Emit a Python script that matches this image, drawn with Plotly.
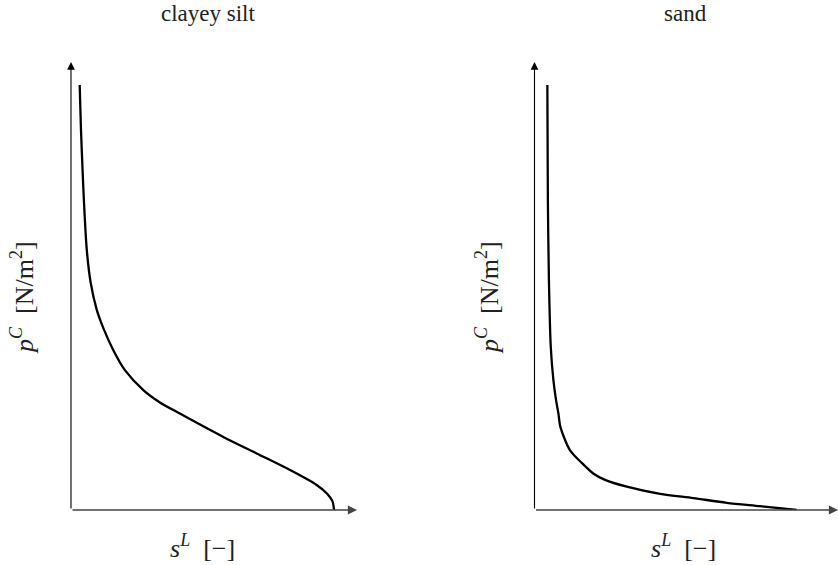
import plotly.graph_objects as go

# ---- data (normalised: s^L in [0,1], p^C relative to top of curve) ----
silt_s = [0.033, 0.038, 0.044, 0.049, 0.060, 0.075, 0.098, 0.123, 0.161, 0.205,
          0.275, 0.338, 0.414, 0.452, 0.579, 0.706, 0.833, 0.934, 0.973, 0.994, 1.0]
silt_p = [1.000, 0.894, 0.800, 0.729, 0.612, 0.534, 0.471, 0.428, 0.376, 0.329,
          0.282, 0.253, 0.227, 0.214, 0.172, 0.133, 0.094, 0.059, 0.039, 0.021, 0.0]

sand_s = [0.049, 0.051, 0.055, 0.062, 0.072, 0.082, 0.091, 0.099, 0.135,
          0.180, 0.224, 0.269, 0.352, 0.479, 0.606, 0.733, 0.860, 1.0]
sand_p = [1.000, 0.729, 0.541, 0.384, 0.306, 0.259, 0.228, 0.195, 0.141,
          0.111, 0.086, 0.071, 0.055, 0.038, 0.028, 0.017, 0.009, 0.0]

titles = ["clayey silt", "sand"]
SUP = '<span style="font-size:18px">{}</span>'
ylabel = "<i>p</i><sup>" + SUP.format("<i>C</i>") + "</sup>&nbsp; [N/m<sup>" + SUP.format("2") + "</sup>]"
xlabel = "<i>s</i><sup>" + SUP.format("<i>L</i>") + "</sup>&nbsp; [−]"

W, H = 838, 565
FONT = "Liberation Serif"

# pixel layout
left_x0, left_x1 = 71, 357
right_x0, right_x1 = 534.5, 838
y_bot, y_top = 510, 62
silt_xmax = (left_x1 - left_x0) / (334 - left_x0)
sand_xmax = (right_x1 - right_x0) / (796.7 - right_x0)
ymax = (y_bot - y_top) / (y_bot - 85)

fig = go.Figure()
line_style = dict(color="black", width=2.3, shape="spline", smoothing=0.8)
fig.add_trace(go.Scatter(x=silt_s, y=silt_p, mode="lines", line=line_style,
                         xaxis="x", yaxis="y", showlegend=False, hoverinfo="skip"))
fig.add_trace(go.Scatter(x=sand_s, y=sand_p, mode="lines", line=line_style,
                         xaxis="x2", yaxis="y2", showlegend=False, hoverinfo="skip"))

ax_common = dict(showgrid=False, zeroline=False, showticklabels=False, ticks="", showline=False, fixedrange=True)
fig.update_layout(
    width=W, height=H, margin=dict(l=0, r=0, t=0, b=0),
    paper_bgcolor="white", plot_bgcolor="white",
    font=dict(family=FONT),
    xaxis=dict(domain=[left_x0 / W, left_x1 / W], range=[0, silt_xmax], anchor="y", **ax_common),
    yaxis=dict(domain=[1 - y_bot / H, 1 - y_top / H], range=[0, ymax], anchor="x", **ax_common),
    xaxis2=dict(domain=[right_x0 / W, right_x1 / W], range=[0, sand_xmax], anchor="y2", **ax_common),
    yaxis2=dict(domain=[1 - y_bot / H, 1 - y_top / H], range=[0, ymax], anchor="x2", **ax_common),
)

annots = []
for xa, ya, xm in [("x", "y", silt_xmax), ("x2", "y2", sand_xmax)]:
    annots.append(dict(x=xm, y=0, ax=0, ay=0, xref=xa, yref=ya, axref=xa, ayref=ya,
                       text="", showarrow=True, arrowhead=2, arrowsize=1.4, arrowwidth=1.3,
                       arrowcolor="#444"))
    annots.append(dict(x=0, y=ymax, ax=0, ay=0, xref=xa, yref=ya, axref=xa, ayref=ya,
                       text="", showarrow=True, arrowhead=2, arrowsize=1.4, arrowwidth=1.1,
                       arrowcolor="black"))

tfont = dict(family=FONT, size=23, color="#222")
lfont = dict(family=FONT, size=26, color="#222")
for cx, t in zip([208, 685], titles):
    annots.append(dict(x=cx / W, y=1 - 13 / H, xref="paper", yref="paper", text=t, showarrow=False,
                       xanchor="center", yanchor="middle", font=tfont))
for cx in [22, 487]:
    annots.append(dict(x=cx / W, y=1 - 298 / H, xref="paper", yref="paper", text=ylabel, showarrow=False,
                       xanchor="center", yanchor="middle", textangle=-90, font=lfont))
for cx in [202, 683]:
    annots.append(dict(x=cx / W, y=1 - 546 / H, xref="paper", yref="paper", text=xlabel, showarrow=False,
                       xanchor="center", yanchor="middle", font=lfont))

fig.update_layout(annotations=annots)
fig.write_html("out.html")
